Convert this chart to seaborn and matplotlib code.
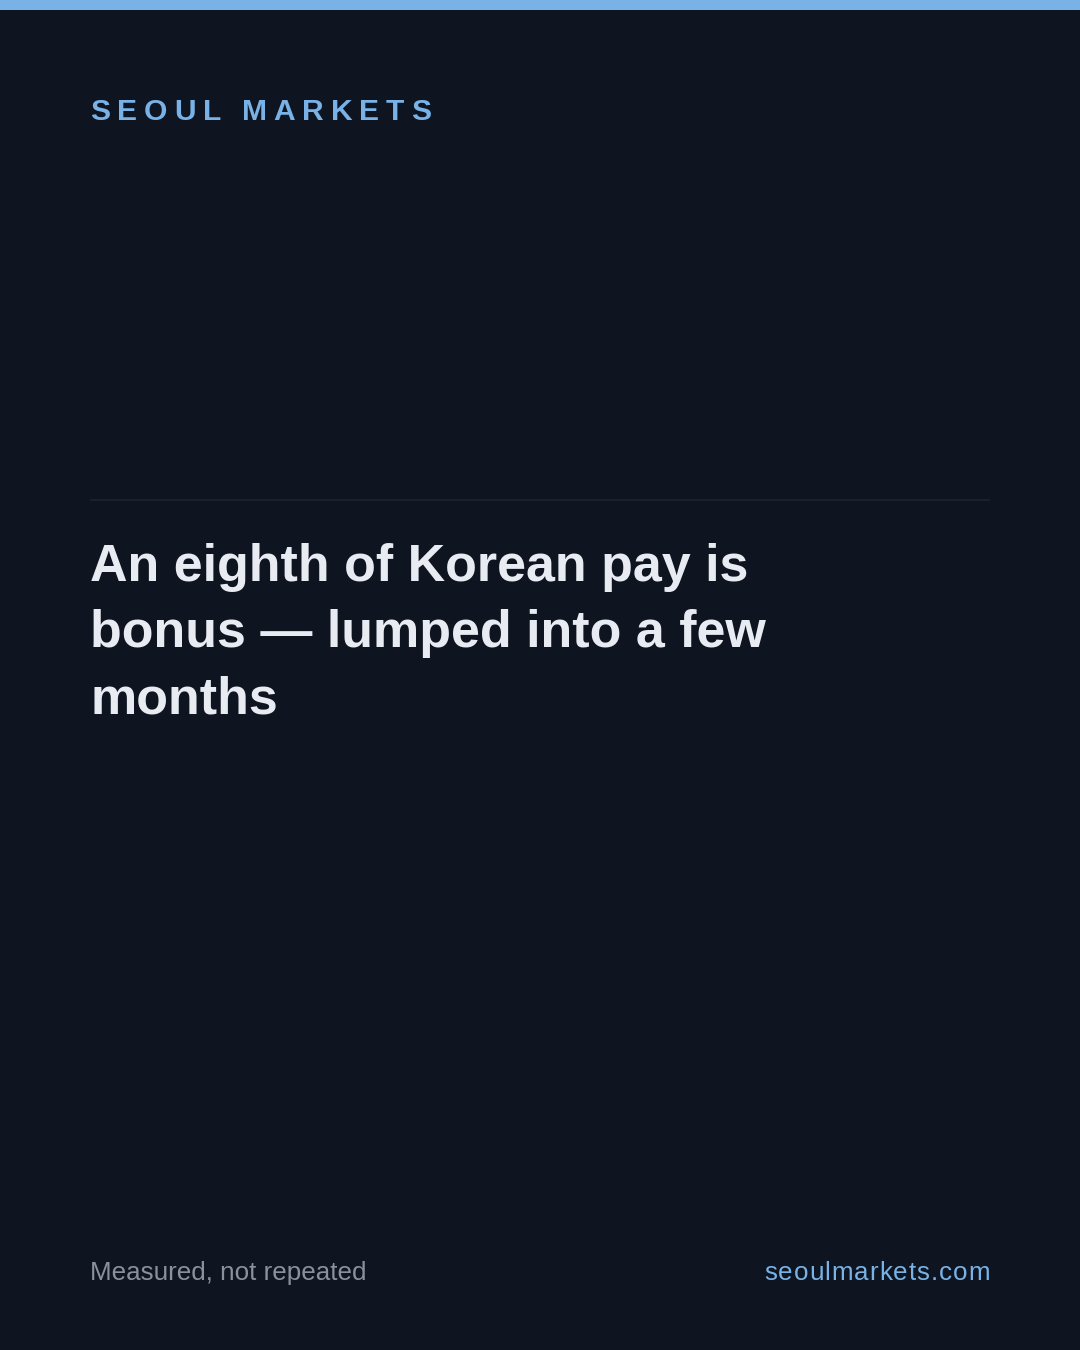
import matplotlib
matplotlib.use("Agg")
import matplotlib.pyplot as plt
import seaborn as sns

# ---- content ----
brand = "SEOUL MARKETS"
title_lines = ["An eighth of Korean pay is", "bonus \u2014 lumped into a few", "months"]
footer_left = "Measured, not repeated"
footer_right = "seoulmarkets.com"

BG = "#0e1420"
ACCENT = "#78b2e6"
TITLE_C = "#e8ecf2"
MUTED = "#8a919b"
RULE = "#1d2431"

sns.set_theme(style="dark", rc={"figure.facecolor": BG, "axes.facecolor": BG})
plt.rcParams['font.family'] = ['Liberation Sans', 'DejaVu Sans']

W, H, DPI = 1080, 1350, 100
fig = plt.figure(figsize=(W / DPI, H / DPI), dpi=DPI)
fig.patch.set_facecolor(BG)
ax = fig.add_axes([0, 0, 1, 1])
ax.set_xlim(0, W)
ax.set_ylim(H, 0)
ax.axis("off")

def pt(px):
    return px * 72 / DPI

fig.canvas.draw()
renderer = fig.canvas.get_renderer()

def spaced_text(s, x0, y, size_px, spacing, color, weight="normal", align="left", space_w=None):
    widths = []
    for ch in s:
        if ch == " ":
            widths.append(space_w if space_w is not None else size_px * 0.28)
        else:
            t = ax.text(0, 0, ch, fontsize=pt(size_px), fontweight=weight)
            widths.append(t.get_window_extent(renderer=renderer).width)
            t.remove()
    total = sum(widths) + spacing * (len(s) - 1)
    x = x0 if align == "left" else x0 - total
    for ch, w in zip(s, widths):
        if ch != " ":
            ax.text(x, y, ch, color=color, fontsize=pt(size_px), fontweight=weight,
                    va="baseline", ha="left")
        x += w + spacing

# top accent bar
ax.axhspan(0, 10, color=ACCENT, lw=0)
# divider rule
ax.plot([90, 990], [500, 500], color=RULE, lw=1.2, solid_capstyle="butt")

# letter-spaced brand
spaced_text(brand, 90, 120, 30, 6.9, ACCENT, weight="bold", space_w=7)

# title
for i, line in enumerate(title_lines):
    ax.text(90, 581 + i * 66, line, color=TITLE_C, fontsize=pt(52),
            fontweight="bold", va="baseline", ha="left")

# footer
ax.text(90, 1280, footer_left, color=MUTED, fontsize=pt(26), va="baseline", ha="left")
spaced_text(footer_right, 990, 1280, 26, 1.0, ACCENT, align="right")

fig.savefig("out.png", dpi=DPI, facecolor=BG)
